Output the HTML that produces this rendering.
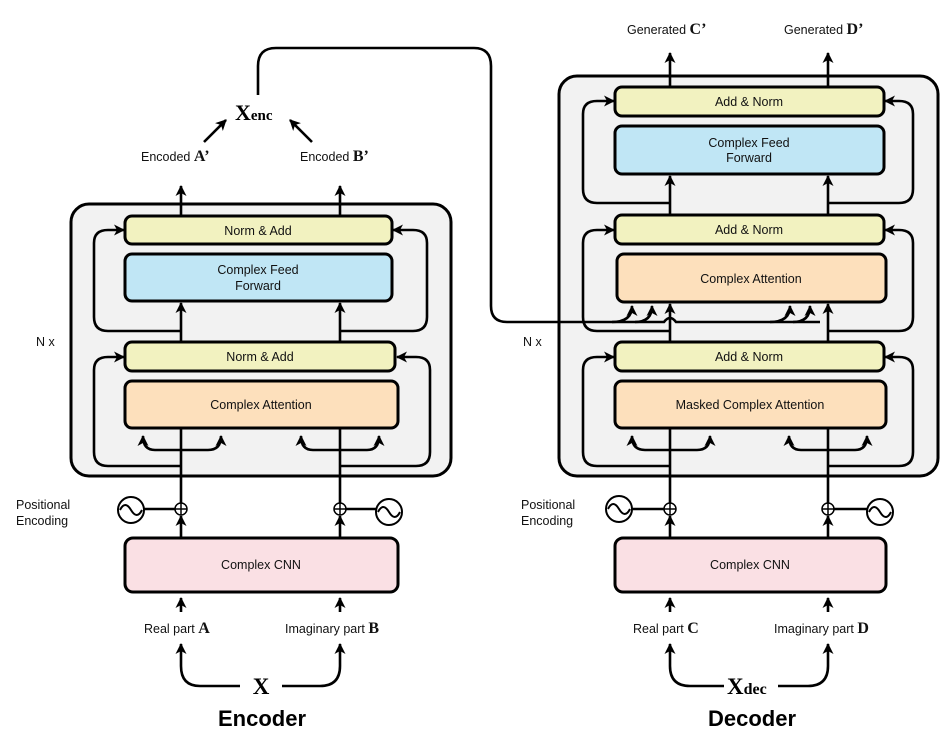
<!DOCTYPE html>
<html><head><meta charset="utf-8"><style>
html,body{margin:0;padding:0;background:#fff;}
svg{display:block;font-family:"Liberation Sans",sans-serif;}
.s{font-family:"Liberation Serif",serif;font-weight:bold;}
</style></head><body>
<svg width="943" height="745" viewBox="0 0 943 745" xmlns="http://www.w3.org/2000/svg">
<defs>
<marker id="a" markerUnits="userSpaceOnUse" markerWidth="14" markerHeight="14" refX="11" refY="7" orient="auto">
<path d="M1,1.5 L12,7 L1,12.5 L4,7 Z" fill="#000"/>
</marker>
</defs>
<g fill="none" stroke="#000" stroke-width="2.6">
<!-- Encoder outer box -->
<rect x="71" y="204" width="380" height="272" rx="18" fill="#f2f2f2" stroke-width="3"/>
<!-- Decoder outer box -->
<rect x="559" y="76" width="379" height="400" rx="18" fill="#f2f2f2" stroke-width="3"/>

<!-- Encoder verticals -->
<path d="M181,612 V598" marker-end="url(#a)"/>
<path d="M340,612 V598" marker-end="url(#a)"/>
<path d="M181,538 V516"  marker-end="url(#a)"/>
<path d="M340,538 V516"  marker-end="url(#a)"/>
<path d="M181,503 V383" marker-end="url(#a)"/>
<path d="M340,503 V383" marker-end="url(#a)"/>
<path d="M181,371 V303" marker-end="url(#a)"/>
<path d="M340,371 V303" marker-end="url(#a)"/>
<path d="M181,216 V186" marker-end="url(#a)"/>
<path d="M340,216 V186" marker-end="url(#a)"/>
<!-- small branch arrows encoder -->
<path d="M181,450 H155 Q143,450 143,436" marker-end="url(#a)"/>
<path d="M181,450 H208 Q221,450 221,436" marker-end="url(#a)"/>
<path d="M340,450 H313 Q301,450 301,436" marker-end="url(#a)"/>
<path d="M340,450 H367 Q379,450 379,436" marker-end="url(#a)"/>
<!-- residuals encoder -->
<path d="M181,466 H108 Q94,466 94,452 V370 Q94,357 108,357 H124" marker-end="url(#a)"/>
<path d="M340,466 H416 Q430,466 430,452 V370 Q430,357 416,357 H397" marker-end="url(#a)"/>
<path d="M181,331 H108 Q94,331 94,317 V243 Q94,230 108,230 H124" marker-end="url(#a)"/>
<path d="M340,331 H413 Q427,331 427,317 V243 Q427,230 413,230 H393" marker-end="url(#a)"/>

<!-- Decoder verticals -->
<path d="M670,612 V598" marker-end="url(#a)"/>
<path d="M828,612 V598" marker-end="url(#a)"/>
<path d="M670,538 V516" marker-end="url(#a)"/>
<path d="M828,538 V516" marker-end="url(#a)"/>
<path d="M670,503 V383" marker-end="url(#a)"/>
<path d="M828,503 V383" marker-end="url(#a)"/>
<path d="M670,371 V304" marker-end="url(#a)"/>
<path d="M828,371 V304" marker-end="url(#a)"/>
<path d="M670,244 V176" marker-end="url(#a)"/>
<path d="M828,244 V176" marker-end="url(#a)"/>
<path d="M670,87 V53" marker-end="url(#a)"/>
<path d="M828,87 V53" marker-end="url(#a)"/>
<!-- masked attention branches -->
<path d="M670,450 H645 Q632,450 632,436" marker-end="url(#a)"/>
<path d="M670,450 H697 Q710,450 710,436" marker-end="url(#a)"/>
<path d="M828,450 H801 Q789,450 789,436" marker-end="url(#a)"/>
<path d="M828,450 H855 Q867,450 867,436" marker-end="url(#a)"/>
<!-- residuals decoder -->
<path d="M670,466 H597 Q583,466 583,452 V370 Q583,357 597,357 H614" marker-end="url(#a)"/>
<path d="M828,466 H899 Q913,466 913,452 V370 Q913,357 899,357 H885" marker-end="url(#a)"/>
<path d="M670,331 H597 Q583,331 583,317 V243 Q583,230 597,230 H614" marker-end="url(#a)"/>
<path d="M828,331 H899 Q913,331 913,317 V243 Q913,230 899,230 H885" marker-end="url(#a)"/>
<path d="M670,203 H597 Q583,203 583,189 V114 Q583,101 597,101 H614" marker-end="url(#a)"/>
<path d="M828,203 H899 Q913,203 913,189 V114 Q913,101 899,101 H885" marker-end="url(#a)"/>

<!-- encoder-decoder connector -->
<path d="M258,95 V66 Q258,48 276,48 H474 Q491,48 491,66 V306 Q491,322 507,322 H664 Q670,314 676,322 H820"/>
<path d="M612,322 Q632,322 632,306" marker-end="url(#a)"/>
<path d="M635,322 Q652,322 652,306" marker-end="url(#a)"/>
<path d="M770,322 Q790,322 790,306" marker-end="url(#a)"/>
<path d="M793,322 Q810,322 810,306" marker-end="url(#a)"/>
<!-- Xenc arrows -->
<path d="M204,142 L226,120" marker-end="url(#a)"/>
<path d="M312,142 L290,120" marker-end="url(#a)"/>
<!-- X curves -->
<path d="M240,686 H200 Q181,686 181,666 V644" marker-end="url(#a)"/>
<path d="M282,686 H320 Q340,686 340,666 V644" marker-end="url(#a)"/>
<path d="M724,686 H690 Q670,686 670,666 V644" marker-end="url(#a)"/>
<path d="M778,686 H808 Q828,686 828,666 V644" marker-end="url(#a)"/>
<!-- positional lines -->
<path d="M144,509 H175 M346,509 H376 M631,509 H664 M834,509 H867"/>
</g>

<!-- Boxes -->
<g stroke="#000" stroke-width="3">
<rect x="125" y="216" width="267" height="28" rx="7" fill="#f2f2c0"/>
<rect x="125" y="254" width="267" height="47" rx="7" fill="#c0e6f5"/>
<rect x="125" y="342" width="270" height="29" rx="7" fill="#f2f2c0"/>
<rect x="125" y="381" width="273" height="47" rx="7" fill="#fde0bc"/>
<rect x="125" y="538" width="273" height="54" rx="8" fill="#fae0e4"/>
<rect x="615" y="87" width="269" height="29" rx="7" fill="#f2f2c0"/>
<rect x="615" y="126" width="269" height="48" rx="7" fill="#c0e6f5"/>
<rect x="615" y="215" width="269" height="29" rx="7" fill="#f2f2c0"/>
<rect x="617" y="254" width="269" height="48" rx="7" fill="#fde0bc"/>
<rect x="615" y="342" width="269" height="29" rx="7" fill="#f2f2c0"/>
<rect x="615" y="381" width="271" height="47" rx="7" fill="#fde0bc"/>
<rect x="615" y="538" width="271" height="54" rx="8" fill="#fae0e4"/>
</g>
<!-- positional circles -->
<g fill="#fff" stroke="#000" stroke-width="1.5">
<circle cx="181" cy="509" r="6"/><circle cx="340" cy="509" r="6"/>
<circle cx="670" cy="509" r="6"/><circle cx="828" cy="509" r="6"/>
<path d="M175,509 H187 M181,503 V515 M334,509 H346 M340,503 V515 M664,509 H676 M670,503 V515 M822,509 H834 M828,503 V515" fill="none"/>
</g>
<g fill="#fff" stroke="#000" stroke-width="2">
<circle cx="131" cy="510" r="13"/><circle cx="389" cy="512" r="13"/>
<circle cx="619" cy="509" r="13"/><circle cx="880" cy="512" r="13"/>
<path fill="none" d="M120,510 Q125,500 131,510 Q137,520 142,510 M378,512 Q383,502 389,512 Q395,522 400,512 M608,509 Q613,499 619,509 Q625,519 630,509 M869,512 Q874,502 880,512 Q886,522 891,512"/>
</g>

<!-- text -->
<g font-size="12.5" text-anchor="middle" fill="#111">
<text x="258" y="235">Norm &amp; Add</text>
<text x="258" y="274">Complex Feed</text><text x="258" y="290">Forward</text>
<text x="260" y="361">Norm &amp; Add</text>
<text x="261" y="409">Complex Attention</text>
<text x="261" y="569">Complex CNN</text>
<text x="749" y="106">Add &amp; Norm</text>
<text x="749" y="147">Complex Feed</text><text x="749" y="162">Forward</text>
<text x="749" y="234">Add &amp; Norm</text>
<text x="751" y="283">Complex Attention</text>
<text x="749" y="361">Add &amp; Norm</text>
<text x="750" y="409">Masked Complex Attention</text>
<text x="750" y="569">Complex CNN</text>
</g>
<g font-size="12.5" fill="#111">
<text x="36" y="346">N x</text>
<text x="523" y="346">N x</text>
<text x="16" y="509">Positional</text><text x="16" y="525">Encoding</text>
<text x="521" y="509">Positional</text><text x="521" y="525">Encoding</text>
<text x="141" y="161">Encoded <tspan class="s" font-size="16">A’</tspan></text>
<text x="300" y="161">Encoded <tspan class="s" font-size="16">B’</tspan></text>
<text x="627" y="34">Generated <tspan class="s" font-size="16">C’</tspan></text>
<text x="784" y="34">Generated <tspan class="s" font-size="16">D’</tspan></text>
<text x="144" y="633">Real part <tspan class="s" font-size="16">A</tspan></text>
<text x="285" y="633">Imaginary part <tspan class="s" font-size="16">B</tspan></text>
<text x="633" y="633">Real part <tspan class="s" font-size="16">C</tspan></text>
<text x="774" y="633">Imaginary part <tspan class="s" font-size="16">D</tspan></text>
</g>
<text x="235" y="120" class="s" font-size="22">X<tspan font-size="15">enc</tspan></text>
<text x="261" y="694" class="s" font-size="23" text-anchor="middle">X</text>
<text x="727" y="694" class="s" font-size="23">X<tspan font-size="16">dec</tspan></text>
<text x="262" y="726" font-size="22" font-weight="bold" text-anchor="middle">Encoder</text>
<text x="752" y="726" font-size="22" font-weight="bold" text-anchor="middle">Decoder</text>
</svg>
</body></html>
